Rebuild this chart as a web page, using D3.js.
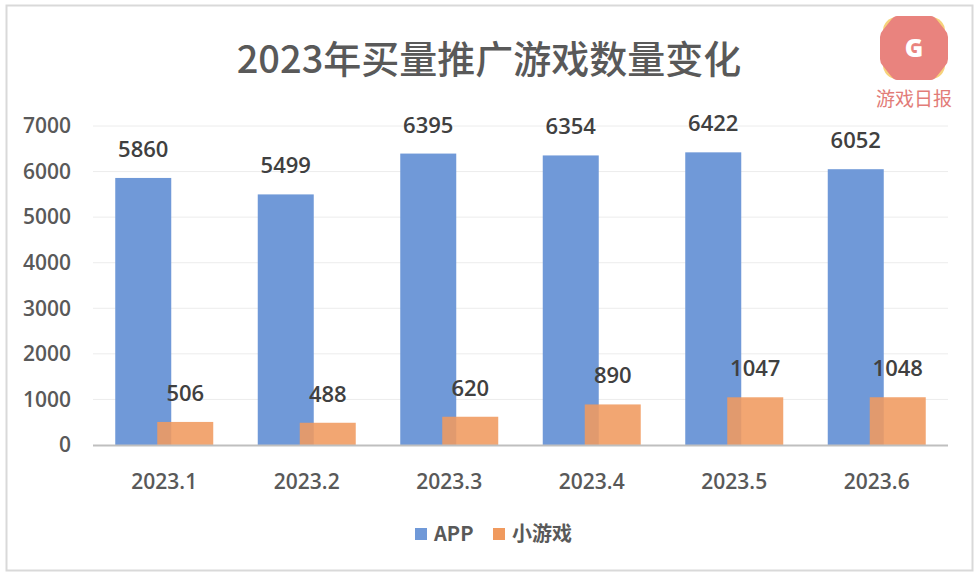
<!DOCTYPE html>
<html>
<head>
<meta charset="utf-8">
<script src="https://cdn.jsdelivr.net/npm/d3@7"></script>
<style>
  body { margin: 0; background: #fff; }
  text { font-family: "Noto Sans CJK SC", "Open Sans", sans-serif; }
</style>
</head>
<body>
<svg></svg>
<script>
//--Data
const months = ["2023.1", "2023.2", "2023.3", "2023.4", "2023.5", "2023.6"];
const appCounts = [5860, 5499, 6395, 6354, 6422, 6052];
const miniCounts = [506, 488, 620, 890, 1047, 1048];
const seriesNames = ["APP", "小游戏"];
const yTicks = [0, 1000, 2000, 3000, 4000, 5000, 6000, 7000];

//--Canvas
const canvas = {
  width: 979,
  height: 576,
  left: 93,
  right: 948,
  top: 126,
  bottom: 445,
  blue: "#7099d8",
  orange: "#f09a5e",
  text: "#595959"
};

const root = d3.select("svg")
  .attr("width", canvas.width)
  .attr("height", canvas.height);

//Outer frame
root.append("rect")
  .attr("x", 6.5).attr("y", 5.5)
  .attr("width", 966).attr("height", 565)
  .attr("fill", "#fff")
  .attr("stroke", "#d9d9d9")
  .attr("stroke-width", 2);

//Title
root.append("text")
  .attr("x", 489).attr("y", 73)
  .attr("text-anchor", "middle")
  .style("font-size", "38px")
  .style("font-weight", 500)
  .attr("fill", "#595959")
  .text("2023年买量推广游戏数量变化");

//--Scales
const x = d3.scaleBand().domain(months).range([canvas.left, canvas.right]);
const y = d3.scaleLinear().domain([0, 7000]).range([canvas.bottom, canvas.top]);
const barW = 56, shift = 21;

//Grid
root.append("g")
  .selectAll("line")
  .data(yTicks.slice(1))
  .join("line")
  .attr("x1", canvas.left).attr("x2", canvas.right)
  .attr("y1", d => y(d)).attr("y2", d => y(d))
  .attr("stroke", "#ececec")
  .attr("stroke-width", 1);

//Y axis labels
const yAxis = root.append("g")
  .attr("transform", `translate(${canvas.left - 22},0)`)
  .call(d3.axisLeft(y).tickValues(yTicks).tickSize(0).tickPadding(0).tickFormat(d3.format("d")));
yAxis.select(".domain").remove();
yAxis.selectAll("text")
  .style("font-size", "21px")
  .style("font-weight", 600)
  .style("font-family", "'Open Sans', sans-serif")
  .attr("fill", canvas.text);

//Bars
const groups = root.append("g")
  .selectAll("g")
  .data(months)
  .join("g")
  .attr("transform", d => `translate(${x(d) + x.bandwidth() / 2},0)`);

groups.append("rect")
  .attr("x", -barW / 2 - shift)
  .attr("y", (d, i) => y(appCounts[i]))
  .attr("width", barW)
  .attr("height", (d, i) => y(0) - y(appCounts[i]))
  .attr("fill", canvas.blue);

groups.append("rect")
  .attr("x", -barW / 2 + shift)
  .attr("y", (d, i) => y(miniCounts[i]))
  .attr("width", barW)
  .attr("height", (d, i) => y(0) - y(miniCounts[i]))
  .attr("fill", canvas.orange)
  .attr("opacity", 0.88);

//Value labels
const labelStyle = sel => sel
  .attr("text-anchor", "middle")
  .style("font-size", "22px")
  .style("font-weight", 600)
  .style("font-family", "'Open Sans', sans-serif")
  .attr("fill", "#404040");

groups.append("text")
  .attr("x", -shift)
  .attr("y", (d, i) => y(appCounts[i]) - 21)
  .call(labelStyle)
  .text((d, i) => appCounts[i]);

groups.append("text")
  .attr("x", shift)
  .attr("y", (d, i) => y(miniCounts[i]) - 21)
  .call(labelStyle)
  .text((d, i) => miniCounts[i]);

//Baseline
root.append("line")
  .attr("x1", canvas.left).attr("x2", canvas.right)
  .attr("y1", y(0) + 0.5).attr("y2", y(0) + 0.5)
  .attr("stroke", "#bfbfbf")
  .attr("stroke-width", 2);

//X axis labels
root.append("g")
  .selectAll("text")
  .data(months)
  .join("text")
  .attr("x", d => x(d) + x.bandwidth() / 2)
  .attr("y", 489)
  .attr("text-anchor", "middle")
  .style("font-size", "21px")
  .style("font-weight", 600)
  .style("font-family", "'Open Sans', sans-serif")
  .attr("fill", canvas.text)
  .text(d => d);

//Legend
const legend = root.append("g").attr("transform", "translate(415,534)");
const legendItems = [
  {name: seriesNames[0], color: canvas.blue, dx: 0},
  {name: seriesNames[1], color: canvas.orange, dx: 78}
];
legendItems.forEach(item => {
  legend.append("rect")
    .attr("x", item.dx).attr("y", -6)
    .attr("width", 12).attr("height", 12)
    .attr("fill", item.color);
  legend.append("text")
    .attr("x", item.dx + 19).attr("y", 7)
    .style("font-size", "20px")
    .style("font-weight", 600)
    .attr("fill", canvas.text)
    .text(item.name);
});

//--Logo
const logo = root.append("g").attr("transform", "translate(914,48)");
logo.append("rect")
  .attr("x", -31).attr("y", -31).attr("width", 62).attr("height", 62)
  .attr("rx", 14)
  .attr("fill", "#f6d27a");
logo.append("path")
  .attr("d", "M-17,-32 L17,-32 Q20,-32 23,-28 L31,-18 Q34,-15 34,-11 L34,11 Q34,15 31,18 L23,28 Q20,32 17,32 L-17,32 Q-20,32 -23,28 L-31,18 Q-34,15 -34,11 L-34,-11 Q-34,-15 -31,-18 L-23,-28 Q-20,-32 -17,-32 Z")
  .attr("fill", "#e9837e");
logo.append("text")
  .attr("x", 0).attr("y", 9)
  .attr("text-anchor", "middle")
  .style("font-size", "25px")
  .style("font-weight", 800)
  .style("font-family", "'Open Sans', sans-serif")
  .attr("fill", "#fff")
  .text("G");
root.append("text")
  .attr("x", 914).attr("y", 106)
  .attr("text-anchor", "middle")
  .style("font-size", "19px")
  .attr("fill", "#e27c78")
  .text("游戏日报");
</script>
</body>
</html>
